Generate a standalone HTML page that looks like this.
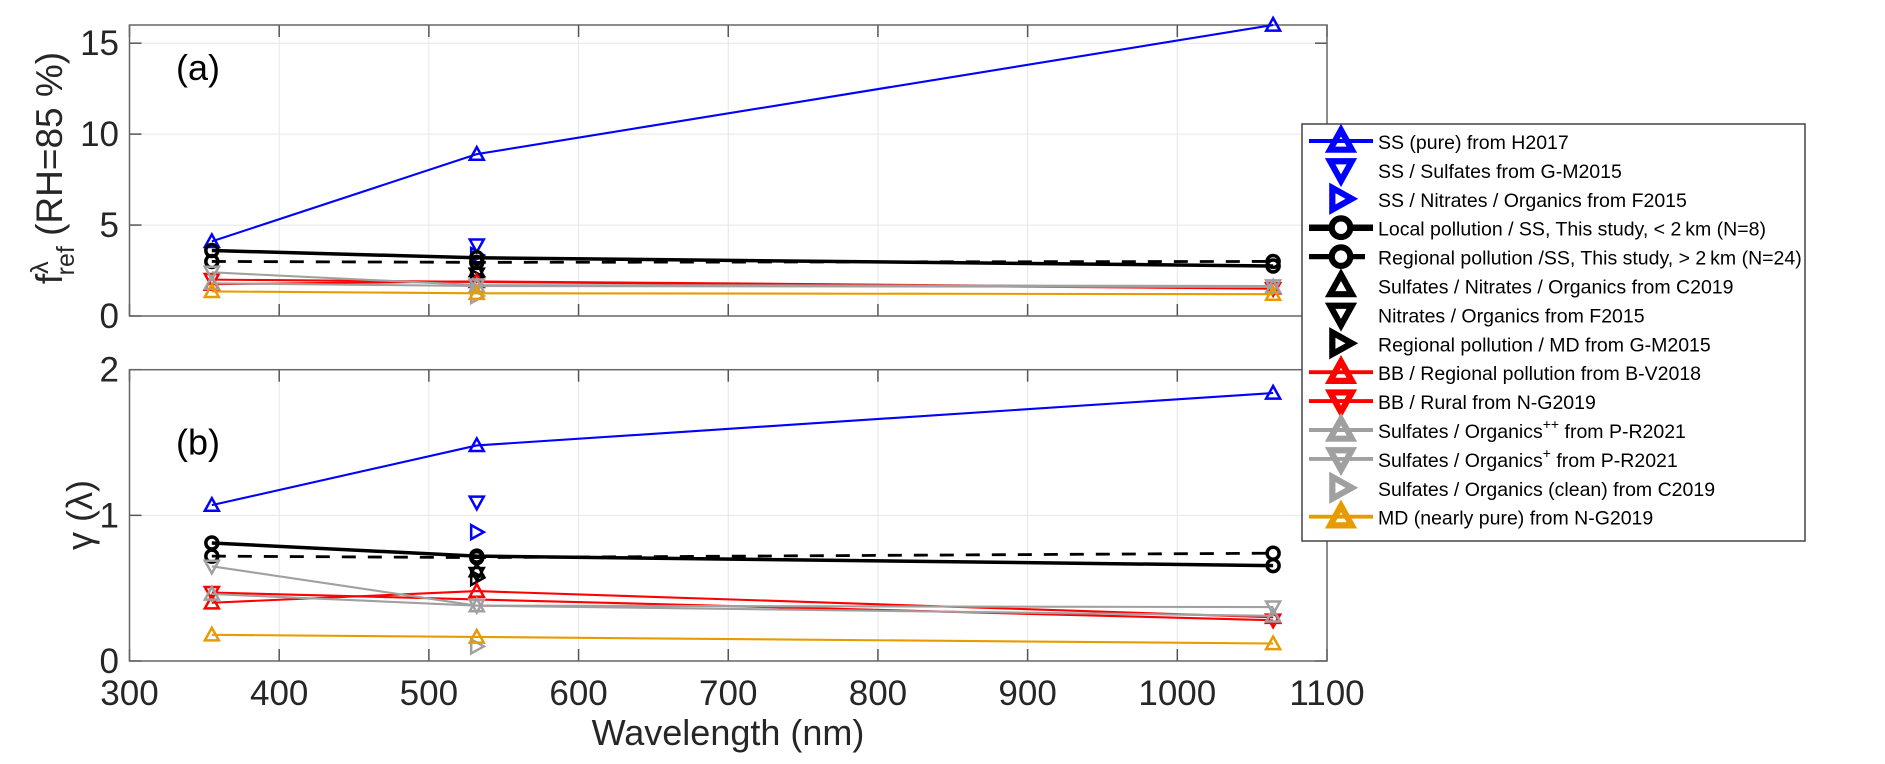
<!DOCTYPE html>
<html><head><meta charset="utf-8"><style>
html,body{margin:0;padding:0;background:#fff;}
svg text{font-family:"Liberation Sans",sans-serif;}
</style></head><body>
<svg id="chart" width="1885" height="759" xmlns="http://www.w3.org/2000/svg"></svg>
<script>
const wavelengths=[355,532,1064];
const xTicks=[300,400,500,600,700,800,900,1000,1100];
const yTicksA=[0,5,10,15];
const yTicksB=[0,1,2];
const seriesNames=["SS (pure) from H2017","SS / Sulfates from G-M2015","SS / Nitrates / Organics from F2015","Local pollution / SS, This study, < 2\u2009km (N=8)","Regional pollution /SS, This study, > 2\u2009km (N=24)","Sulfates / Nitrates / Organics from C2019","Nitrates / Organics from F2015","Regional pollution / MD from G-M2015","BB / Regional pollution from B-V2018","BB / Rural from N-G2019","Sulfates / Organics++ from P-R2021","Sulfates / Organics+ from P-R2021","Sulfates / Organics (clean) from C2019","MD (nearly pure) from N-G2019"];
const valuesA=[[4.1,8.9,16.0],[null,3.9,null],[null,3.35,null],[3.6,3.2,2.75],[3.0,2.95,3.0],[null,2.5,null],[null,2.3,null],[null,2.15,null],[1.75,1.9,1.55],[2.0,null,1.5],[1.8,1.65,1.6],[2.4,1.7,1.65],[null,1.1,null],[1.35,1.25,1.2]];
const valuesB=[[1.07,1.48,1.84],[null,1.09,null],[null,0.885,null],[0.81,0.72,0.655],[0.72,0.71,0.74],[null,0.62,null],[null,0.60,null],[null,0.57,null],[0.40,0.48,0.30],[0.47,null,0.28],[0.46,0.38,0.31],[0.65,0.38,0.37],[null,0.10,null],[0.18,0.165,0.12]];
const colors=["#0000ff","#0000ff","#0000ff","#000","#000","#000","#000","#000","#ff0000","#ff0000","#a0a0a0","#a0a0a0","#a0a0a0","#e69c00"];
const markers=["up","down","right","circle","circle","up","down","right","up","down","up","down","right","up"];
const widths=[3,0,0,5,4,0,0,0,3,3,3,3,0,3];
const dashes=["","","","","14,12","","","","","","","","",""];

const NS="http://www.w3.org/2000/svg";
const svg=document.getElementById('chart');
function el(t,a,p){const e=document.createElementNS(NS,t);for(const k in a)e.setAttribute(k,a[k]);(p||svg).appendChild(e);return e;}
const X0=129.5,X1=1327;
const xs=v=>X0+(v-300)/800*(X1-X0);
const panels=[{top:25,bot:316,max:16,ticks:yTicksA,vals:valuesA,label:"(a)",name:"panel-a"},{top:369.7,bot:661,max:2,ticks:yTicksB,vals:valuesB,label:"(b)",name:"panel-b"}];
function marker(g,type,cx,cy,c,sw){
  const s=7;let m;
  if(type==="circle"){m=el('circle',{cx:cx,cy:cy,r:6,fill:'none',stroke:c,'stroke-width':sw},g);}
  else{let p;
    if(type==="up")p=[[cx,cy-s],[cx+s,cy+s*0.8],[cx-s,cy+s*0.8]];
    else if(type==="down")p=[[cx,cy+s],[cx+s,cy-s*0.8],[cx-s,cy-s*0.8]];
    else p=[[cx+s,cy],[cx-s*0.8,cy-s],[cx-s*0.8,cy+s]];
    m=el('polygon',{points:p.map(q=>q.join(',')).join(' '),fill:'none',stroke:c,'stroke-width':sw},g);}
  return m;
}
panels.forEach((P,pi)=>{
  const ys=v=>P.bot-v/P.max*(P.bot-P.top);
  const g=el('g',{});
  
  
  xTicks.forEach(t=>{const x=xs(t);
    el('line',{x1:x,x2:x,y1:P.top,y2:P.bot,stroke:'#e6e6e6','stroke-width':1},g);
    el('line',{x1:x,x2:x,y1:P.bot,y2:P.bot-12,stroke:'#555','stroke-width':1.5},g);
    el('line',{x1:x,x2:x,y1:P.top,y2:P.top+12,stroke:'#555','stroke-width':1.5},g);
    if(pi===1){const tx=el('text',{x:x,y:705,'font-size':35,'text-anchor':'middle',fill:'#262626'},g);tx.textContent=t;
      }
  });
  P.ticks.forEach(t=>{const y=ys(t);
    el('line',{x1:X0,x2:X1,y1:y,y2:y,stroke:'#e6e6e6','stroke-width':1},g);
    el('line',{x1:X0,x2:X0+12,y1:y,y2:y,stroke:'#555','stroke-width':1.5},g);
    el('line',{x1:X1,x2:X1-12,y1:y,y2:y,stroke:'#555','stroke-width':1.5},g);
    const tx=el('text',{x:119,y:y+12,'font-size':35,'text-anchor':'end',fill:'#262626'},g);tx.textContent=t;
    
  });
  el('rect',{x:X0,y:P.top,width:X1-X0,height:P.bot-P.top,fill:'none',stroke:'#666','stroke-width':1.5},g);
  const lb=el('text',{x:176,y:P.top+(pi===0?55:85),'font-size':36,fill:'#000'},g);lb.textContent=P.label;
  
  P.vals.forEach((vals,si)=>{
    const sg=el('g',{},g);
    
    
    const pts=[];vals.forEach((v,i)=>{if(v!==null)pts.push([xs(wavelengths[i]),ys(v)]);});
    if(widths[si]>0&&pts.length>1){const pl=el('polyline',{points:pts.map(p=>p.join(',')).join(' '),fill:'none',stroke:colors[si],'stroke-width':widths[si]*0.7,'stroke-dasharray':dashes[si]},sg);
      }
    pts.forEach(p=>{const m=marker(sg,markers[si],p[0],p[1],colors[si],markers[si]==="circle"?3.5:2.5);
      });
  });
});
// axis titles
const xt=el('text',{x:728,y:745,'font-size':36,'text-anchor':'middle',fill:'#262626'});xt.textContent="Wavelength (nm)";

const ya=el('text',{transform:'translate(62,168) rotate(-90)','font-size':37,'text-anchor':'middle',fill:'#262626'});
ya.innerHTML='f<tspan dy="-14" font-size="25">λ</tspan><tspan dx="-14" dy="26" font-size="25">ref</tspan><tspan dy="-12"> (RH=85 %)</tspan>';

const yb=el('text',{transform:'translate(92,515) rotate(-90)','font-size':36,'text-anchor':'middle',fill:'#262626'});yb.textContent="γ (λ)";

// legend
const lg=el('g',{});


el('rect',{x:1302,y:124,width:503,height:417,fill:'#fff',stroke:'#444','stroke-width':1.5},lg);
seriesNames.forEach((n,i)=>{
  const y=141+i*28.9;
  const eg=el('g',{},lg);
  
  
  if(widths[i]>0)el('line',{x1:1309,x2:1373,y1:y,y2:y,stroke:colors[i],'stroke-width':widths[i]*1.3,'stroke-dasharray':dashes[i]?"22,12":""},eg);
  if(widths[i]>0&&markers[i]==="circle")el('circle',{cx:1341,cy:y,r:10,fill:'#fff'},eg);
  marker(eg,markers[i],1341,y,colors[i],4).setAttribute('transform',`translate(1341,${y}) scale(1.55) translate(-1341,${-y})`);
  const t=el('text',{x:1378,y:y+8,'font-size':19.5,fill:'#000'},eg);
  if(i===10)t.innerHTML='Sulfates / Organics<tspan dy="-9" font-size="14">++</tspan><tspan dy="9"> from P-R2021</tspan>';
  else if(i===11)t.innerHTML='Sulfates / Organics<tspan dy="-9" font-size="14">+</tspan><tspan dy="9"> from P-R2021</tspan>';
  else t.textContent=n;
});
</script>
</body></html>
